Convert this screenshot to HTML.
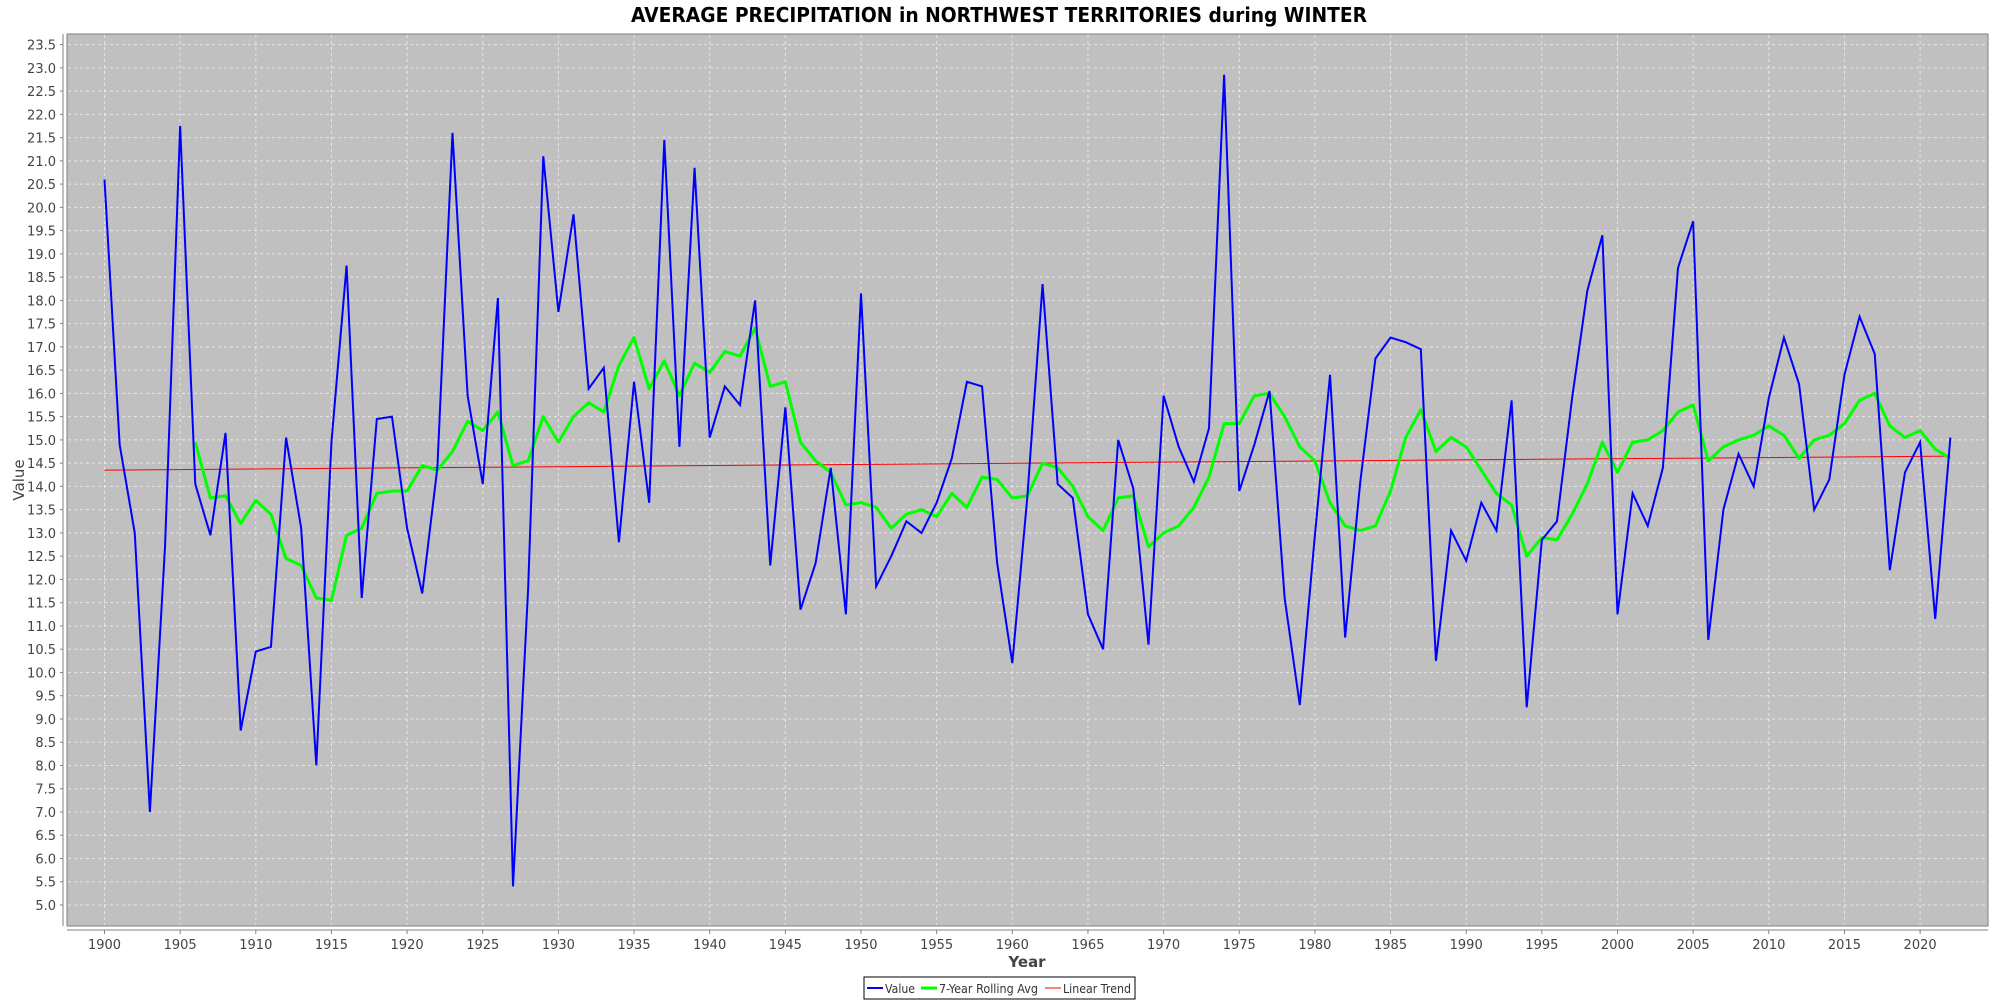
<!DOCTYPE html>
<html><head><meta charset="utf-8"><style>
body{margin:0;background:#fff;}
svg{display:block;font-family:"DejaVu Sans","Liberation Sans",sans-serif;}
</style></head><body>
<svg id="chart" width="2000" height="1000" xmlns="http://www.w3.org/2000/svg">
<rect x="0" y="0" width="2000" height="1000" fill="#fff"/>
<text x="999" y="22" text-anchor="middle" font-size="20" font-weight="bold" textLength="736" lengthAdjust="spacingAndGlyphs">AVERAGE PRECIPITATION in NORTHWEST TERRITORIES during WINTER</text>
<rect x="67" y="34" width="1921" height="892" fill="#c0c0c0" stroke="#808080" stroke-width="1"/>
<g id="grid"></g>
<g id="axes"></g>
<g id="series"></g>
<text x="1027" y="967" text-anchor="middle" font-size="15" font-weight="bold" fill="#444">Year</text>
<text transform="translate(24,480) rotate(-90)" text-anchor="middle" font-size="15" fill="#444">Value</text>
<g>
<rect x="864" y="977" width="271" height="22" fill="#fff" stroke="#000" stroke-width="1"/>
<line x1="867" y1="988" x2="883" y2="988" stroke="#0000ff" stroke-width="2"/>
<text x="885" y="993" font-size="12" fill="#333" textLength="30" lengthAdjust="spacingAndGlyphs">Value</text>
<line x1="921" y1="988" x2="937" y2="988" stroke="#00ff00" stroke-width="3"/>
<text x="939" y="993" font-size="12" fill="#333" textLength="99" lengthAdjust="spacingAndGlyphs">7-Year Rolling Avg</text>
<line x1="1045" y1="988" x2="1061" y2="988" stroke="#ff0000" stroke-width="1"/>
<text x="1063" y="993" font-size="12" fill="#333" textLength="68" lengthAdjust="spacingAndGlyphs">Linear Trend</text>
</g>
</svg>
<script>
const startYear = 1900;
const values = [20.6,14.9,13.0,7.0,12.7,21.75,14.05,12.95,15.15,8.75,10.45,10.55,15.05,13.1,8.0,14.95,18.75,11.6,15.45,15.5,
13.1,11.7,14.4,21.6,15.95,14.05,18.05,5.4,11.8,21.1,17.75,19.85,16.1,16.55,12.8,16.25,13.65,21.45,14.85,20.85,
15.05,16.15,15.75,18.0,12.3,15.7,11.35,12.35,14.4,11.25,18.15,11.85,12.5,13.25,13.0,13.65,14.6,16.25,16.15,12.35,
10.2,13.8,18.35,14.05,13.75,11.25,10.5,15.0,13.95,10.6,15.95,14.85,14.1,15.25,22.85,13.9,14.9,16.05,11.6,9.3,
12.95,16.4,10.75,14.1,16.75,17.2,17.1,16.95,10.25,13.05,12.4,13.65,13.05,15.85,9.25,12.85,13.25,15.9,18.2,19.4,
11.25,13.85,13.15,14.4,18.7,19.7,10.7,13.5,14.7,14.0,15.9,17.2,16.2,13.5,14.15,16.4,17.65,16.85,12.2,14.3,
14.95,11.15,15.05];
const rollStartYear = 1906;
const rolling = [14.95,13.75,13.8,13.2,13.7,13.4,12.45,12.3,11.6,11.55,12.95,13.1,13.85,13.9,13.9,14.45,14.35,14.75,15.4,15.2,
15.6,14.45,14.55,15.5,14.95,15.5,15.8,15.6,16.6,17.2,16.1,16.7,15.95,16.65,16.45,16.9,16.8,17.4,16.15,16.25,
14.95,14.55,14.3,13.6,13.65,13.55,13.1,13.4,13.5,13.35,13.85,13.55,14.2,14.15,13.75,13.8,14.5,14.4,14.0,13.35,
13.05,13.75,13.8,12.7,13.0,13.15,13.55,14.2,15.35,15.35,15.95,16.0,15.5,14.85,14.55,13.65,13.15,13.05,13.15,13.9,
15.05,15.65,14.75,15.05,14.85,14.35,13.85,13.6,12.5,12.9,12.85,13.4,14.05,14.95,14.3,14.95,15.0,15.2,15.6,15.75,
14.55,14.85,15.0,15.1,15.3,15.1,14.6,15.0,15.1,15.35,15.85,16.0,15.3,15.05,15.2,14.8,14.6];
const trendStart = 14.35, trendEnd = 14.65;
const yTicks = [5.0,5.5,6.0,6.5,7.0,7.5,8.0,8.5,9.0,9.5,10.0,10.5,11.0,11.5,12.0,12.5,13.0,13.5,14.0,14.5,15.0,15.5,16.0,16.5,17.0,17.5,18.0,18.5,19.0,19.5,20.0,20.5,21.0,21.5,22.0,22.5,23.0,23.5];
const xTicks = [1900,1905,1910,1915,1920,1925,1930,1935,1940,1945,1950,1955,1960,1965,1970,1975,1980,1985,1990,1995,2000,2005,2010,2015,2020];

const NS="http://www.w3.org/2000/svg";
const X = yr => 104.5 + (yr-1900)*15.13;
const Y = v => 905 - (v-5)*46.51;
function mk(tag, attrs, parent){const e=document.createElementNS(NS,tag);for(const k in attrs)e.setAttribute(k,attrs[k]);parent.appendChild(e);return e;}
const grid=document.getElementById('grid'), axes=document.getElementById('axes'), series=document.getElementById('series');
yTicks.forEach(v=>{
  const l=mk('line',{x1:68,x2:1987,y1:Y(v),y2:Y(v),stroke:'#fff','stroke-width':1,'stroke-dasharray':'3,3',opacity:0.6},grid);
  
  
  const t=mk('text',{x:56,y:Y(v)+5,'text-anchor':'end','font-size':13,fill:'#444'},axes);
  t.textContent=v.toFixed(1);
  
  
  mk('line',{x1:60,x2:63,y1:Y(v),y2:Y(v),stroke:'#808080'},axes);
});
xTicks.forEach(yr=>{
  const l=mk('line',{x1:X(yr),x2:X(yr),y1:35,y2:925,stroke:'#fff','stroke-width':1,'stroke-dasharray':'3,3',opacity:0.6},grid);
  
  
  const t=mk('text',{x:X(yr),y:949,'text-anchor':'middle','font-size':13,fill:'#444'},axes);
  t.textContent=yr;
  
  
  mk('line',{x1:X(yr),x2:X(yr),y1:930,y2:934,stroke:'#808080'},axes);
});
const ya=mk('line',{x1:63,x2:63,y1:34,y2:926,stroke:'#808080','stroke-width':1},axes);


const xa=mk('line',{x1:67,x2:1988,y1:930,y2:930,stroke:'#808080','stroke-width':1},axes);



const lastYear = startYear + values.length - 1;
const tr=mk('line',{x1:X(startYear),y1:Y(trendStart),x2:X(lastYear),y2:Y(trendEnd),stroke:'#ff0000','stroke-width':1},series);


const rp=mk('polyline',{points:rolling.map((v,i)=>X(rollStartYear+i)+','+Y(v)).join(' '),fill:'none',stroke:'#00ff00','stroke-width':3,'stroke-linejoin':'round'},series);


const vp=mk('polyline',{points:values.map((v,i)=>X(startYear+i)+','+Y(v)).join(' '),fill:'none',stroke:'#0000ff','stroke-width':2},series);


</script>
</body></html>
